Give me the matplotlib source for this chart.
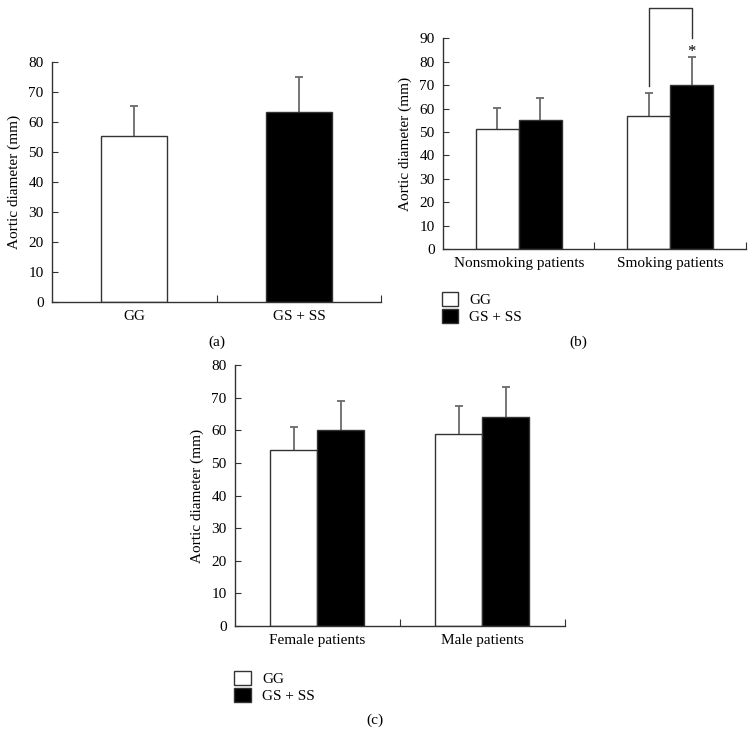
import matplotlib
matplotlib.use("Agg")
import matplotlib.pyplot as plt
from matplotlib.patches import Patch
import numpy as np

plt.rcParams["font.family"] = ["Liberation Serif", "DejaVu Serif"]

# Panel (a)
a_groups = ["GG", "GS + SS"]
a_means = [55.3, 63.2]
a_errs = [9.9, 11.8]

# Panel (b)
b_groups = ["Nonsmoking patients", "Smoking patients"]
b_gg_means = [51.1, 57.0]
b_gg_errs = [9.0, 9.5]
b_ss_means = [55.3, 70.1]
b_ss_errs = [9.3, 12.0]

# Panel (c)
c_groups = ["Female patients", "Male patients"]
c_gg_means = [54.0, 59.0]
c_gg_errs = [7.1, 8.4]
c_ss_means = [60.0, 64.2]
c_ss_errs = [8.9, 9.0]

series_labels = ["GG", "GS + SS"]

AX_COLOR = "#333333"
ERR_COLOR = "#6a6a6a"
FS = 11


def style_axes(ax, ymax, step):
    ax.spines["top"].set_visible(False)
    ax.spines["right"].set_visible(False)
    for s in ["left", "bottom"]:
        ax.spines[s].set_color(AX_COLOR)
        ax.spines[s].set_linewidth(1.0)
    ax.set_ylim(0, ymax)
    ax.set_xlim(-0.5, 1.5)
    ax.set_yticks(np.arange(0, ymax + 1, step))
    ax.tick_params(axis="y", direction="in", length=4, color=AX_COLOR,
                   labelsize=FS, pad=6)
    # boundary ticks pointing up, category labels without ticks
    ax.set_xticks([0.5, 1.5])
    ax.set_xticklabels(["", ""])
    ax.tick_params(axis="x", which="major", direction="in", length=5,
                   color=AX_COLOR)
    ax.set_xticks([0, 1], minor=True)
    ax.tick_params(axis="x", which="minor", length=0, labelsize=FS, pad=6)
    ax.set_ylabel("Aortic diameter (mm)", fontsize=FS, labelpad=5)


def draw_bars(ax, x, means, errs, color):
    x = np.asarray(x, dtype=float)
    means = np.asarray(means)
    errs = np.asarray(errs)
    ax.bar(x, means, width=bw, color=color, edgecolor=AX_COLOR,
           linewidth=1.0, zorder=2)
    # upper-only error bars: stem + one cap
    ax.vlines(x, means, means + errs, color=ERR_COLOR, lw=1.3, zorder=1)
    ax.scatter(x, means + errs, marker="_", s=40, color=ERR_COLOR,
               linewidths=1.3, zorder=1)


def legend_handles():
    return [Patch(facecolor="white", edgecolor=AX_COLOR, lw=1.0),
            Patch(facecolor="black", edgecolor=AX_COLOR, lw=1.0)]


fig = plt.figure(figsize=(7.56, 7.34), dpi=100)

# ---------------- (a) ----------------
ax_a = fig.add_axes([0.0688, 0.5886, 0.4355, 0.3269])
bw = 0.40
draw_bars(ax_a, [0], [a_means[0]], [a_errs[0]], "white")
draw_bars(ax_a, [1], [a_means[1]], [a_errs[1]], "black")
style_axes(ax_a, 80, 10)
ax_a.set_xticklabels(a_groups, minor=True)
fig.text(0.2866, 1 - 342 / 734, "(a)", ha="center", va="center", fontsize=FS)

# ---------------- (b) ----------------
ax_b = fig.add_axes([0.586, 0.6608, 0.4007, 0.2870])
bw = 0.285
x = np.arange(2)
draw_bars(ax_b, x - bw / 2, b_gg_means, b_gg_errs, "white")
draw_bars(ax_b, x + bw / 2, b_ss_means, b_ss_errs, "black")
style_axes(ax_b, 90, 10)
ax_b.set_xticklabels(b_groups, minor=True)
# significance bracket
xl = 1 - bw / 2
xr = 1 + bw / 2
ax_b.plot([xl, xl, xr, xr], [69.6, 103, 103, 90], color=AX_COLOR, lw=1.0,
          clip_on=False)
ax_b.text(xr, 84.0, "*", ha="center", va="center", fontsize=FS + 1)
fig.legend(handles=legend_handles(), labels=series_labels,
           loc="upper left", bbox_to_anchor=(0.574, 1 - 284 / 734),
           frameon=False, fontsize=FS, handlelength=1.1,
           handleheight=1.1, handletextpad=0.7, labelspacing=0.1,
           borderpad=0)
fig.text(578 / 756, 1 - 342 / 734, "(b)", ha="center", va="center",
         fontsize=FS)

# ---------------- (c) ----------------
ax_c = fig.add_axes([0.3108, 0.1471, 0.4365, 0.3552])
bw = 0.285
draw_bars(ax_c, x - bw / 2, c_gg_means, c_gg_errs, "white")
draw_bars(ax_c, x + bw / 2, c_ss_means, c_ss_errs, "black")
style_axes(ax_c, 80, 10)
ax_c.set_xticklabels(c_groups, minor=True)
fig.legend(handles=legend_handles(), labels=series_labels,
           loc="upper left", bbox_to_anchor=(0.300, 1 - 663 / 734),
           frameon=False, fontsize=FS, handlelength=1.1,
           handleheight=1.1, handletextpad=0.7, labelspacing=0.1,
           borderpad=0)
fig.text(375 / 756, 1 - 720 / 734, "(c)", ha="center", va="center",
         fontsize=FS)

fig.savefig("out.png", dpi=100)
